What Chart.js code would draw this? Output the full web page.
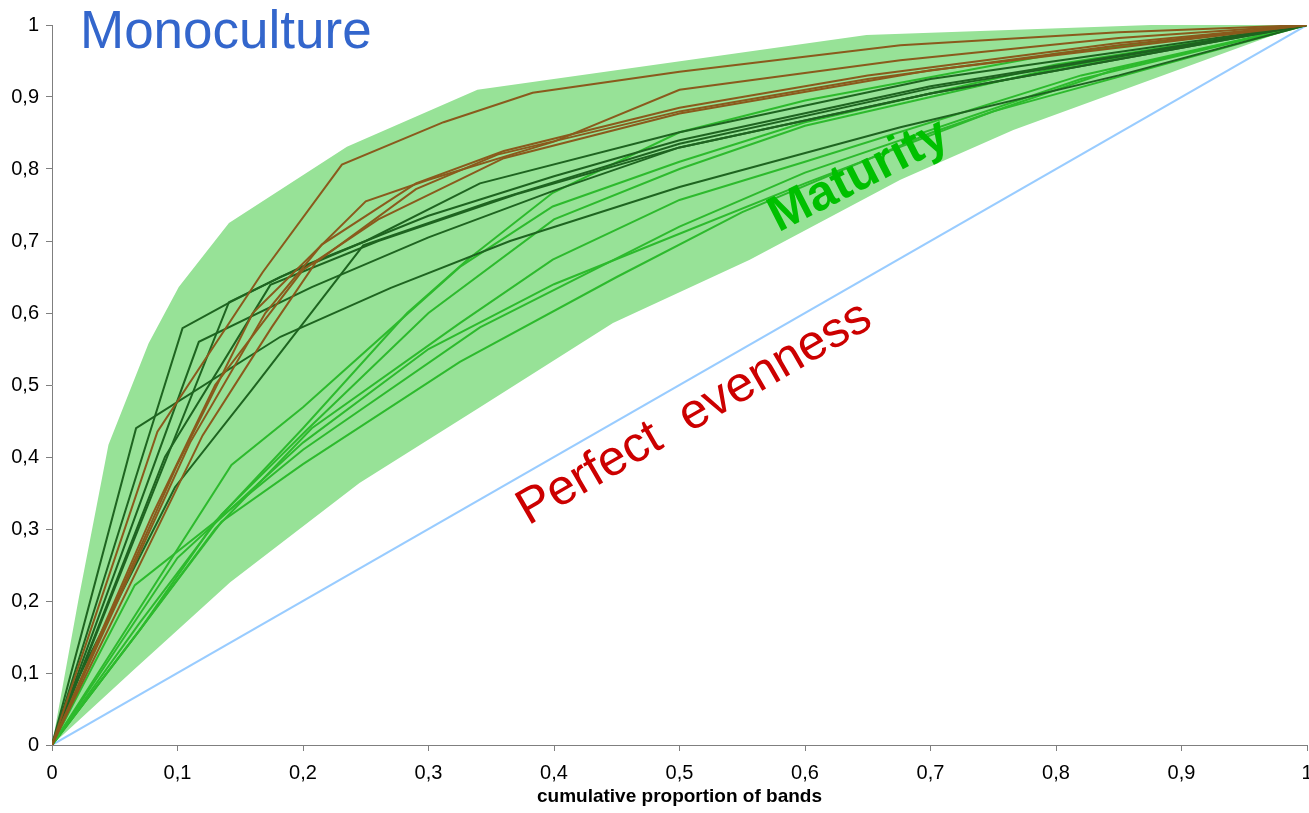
<!DOCTYPE html>
<html><head><meta charset="utf-8">
<script src="https://cdn.jsdelivr.net/npm/chart.js@4.4.1/dist/chart.umd.min.js"></script>
<style>html,body{margin:0;padding:0;background:#fff;overflow:hidden}</style>
</head><body>
<canvas id="c" width="1309" height="813"></canvas>
<script>
// ---- tick labels ----
const xTickLabels = ['0','0,1','0,2','0,3','0,4','0,5','0,6','0,7','0,8','0,9','1'];
const yTickLabels = ['0','0,1','0,2','0,3','0,4','0,5','0,6','0,7','0,8','0,9','1'];
const xTitle = 'cumulative proportion of bands';

// ---- envelope of the "Maturity" zone ----
const bandUpper = [[0,0],[0.021,0.201],[0.045,0.417],[0.077,0.558],[0.101,0.636],[0.141,0.725],[0.235,0.831],[0.339,0.910],[0.649,0.986],[0.957,1.005],[1,1.003]];
const bandLower = [[0,0],[0.065,0.104],[0.142,0.226],[0.245,0.364],[0.341,0.469],[0.447,0.586],[0.556,0.674],[0.676,0.785],[0.766,0.854],[1,1.003]];

// ---- perfect evenness ----
const evenness = [[0,0],[1,1]];

// ---- brown curves ----
const brown1 = [[0,0],[0.084,0.435],[0.168,0.657],[0.231,0.806],[0.312,0.865],[0.383,0.906],[0.5,0.935],[0.676,0.972],[0.85,0.99],[1,1]];
const brown2 = [[0,0],[0.1,0.39],[0.16,0.6],[0.25,0.755],[0.3,0.785],[0.4,0.838],[0.5,0.91],[0.676,0.951],[0.85,0.982],[1,1]];
const brown3 = [[0,0],[0.11,0.42],[0.17,0.6],[0.215,0.695],[0.29,0.78],[0.36,0.825],[0.5,0.885],[0.65,0.93],[0.85,0.975],[1,1]];
const brown4 = [[0,0],[0.12,0.43],[0.175,0.58],[0.21,0.67],[0.29,0.772],[0.355,0.82],[0.5,0.88],[0.65,0.925],[0.85,0.972],[1,1]];
const brown5 = [[0,0],[0.08,0.32],[0.13,0.5],[0.2,0.66],[0.26,0.73],[0.36,0.815],[0.5,0.877],[0.7,0.937],[1,1]];

// ---- dark green curves ----
const darkGreen1 = [[0,0],[0.067,0.44],[0.182,0.567],[0.27,0.635],[0.365,0.70],[0.5,0.775],[0.676,0.858],[0.85,0.93],[1,1]];
const darkGreen2 = [[0,0],[0.104,0.579],[0.142,0.615],[0.182,0.65],[0.25,0.70],[0.341,0.78],[0.5,0.851],[0.7,0.925],[1,1]];
const darkGreen3 = [[0,0],[0.117,0.56],[0.207,0.636],[0.3,0.705],[0.4,0.77],[0.5,0.83],[0.7,0.905],[1,1]];
const darkGreen4 = [[0,0],[0.141,0.615],[0.2,0.665],[0.3,0.735],[0.4,0.79],[0.5,0.84],[0.7,0.915],[1,1]];
const darkGreen5 = [[0,0],[0.02,0.09],[0.098,0.358],[0.159,0.493],[0.248,0.694],[0.35,0.755],[0.5,0.835],[0.7,0.912],[1,1]];
const darkGreen6 = [[0,0],[0.09,0.4],[0.174,0.639],[0.26,0.70],[0.37,0.765],[0.5,0.83],[0.7,0.905],[1,1]];

// ---- light green curves ----
const lightGreen1 = [[0,0],[0.066,0.222],[0.13,0.31],[0.2,0.44],[0.283,0.6],[0.331,0.674],[0.399,0.767],[0.5,0.851],[0.6,0.895],[0.8,0.96],[1,1]];
const lightGreen2 = [[0,0],[0.143,0.389],[0.2,0.469],[0.325,0.664],[0.399,0.748],[0.5,0.81],[0.6,0.865],[0.8,0.945],[1,1]];
const lightGreen3 = [[0,0],[0.07,0.17],[0.135,0.32],[0.203,0.4375],[0.3,0.6],[0.4,0.73],[0.5,0.8],[0.6,0.86],[0.8,0.94],[1,1]];
const lightGreen4 = [[0,0],[0.07,0.16],[0.13,0.3],[0.207,0.44],[0.325,0.586],[0.399,0.674],[0.5,0.757],[0.6,0.81],[0.82,0.93],[1,1]];
const lightGreen5 = [[0,0],[0.07,0.16],[0.13,0.31],[0.2,0.41],[0.341,0.58],[0.5,0.72],[0.6,0.795],[0.82,0.925],[1,1]];
const lightGreen6 = [[0,0],[0.07,0.16],[0.135,0.31],[0.2,0.39],[0.325,0.532],[0.45,0.65],[0.55,0.74],[0.7,0.85],[0.85,0.94],[1,1]];
const lightGreen7 = [[0,0],[0.1,0.26],[0.2,0.42],[0.3,0.55],[0.4,0.64],[0.5,0.71],[0.6,0.78],[0.75,0.88],[1,1]];

const brownSeries = [brown1, brown2, brown3, brown4, brown5];
const darkSeries = [darkGreen1, darkGreen2, darkGreen3, darkGreen4, darkGreen5, darkGreen6];
const lightSeries = [lightGreen1, lightGreen2, lightGreen3, lightGreen4, lightGreen5, lightGreen6, lightGreen7];

const toXY = arr => arr.map(p => ({x: p[0], y: p[1]}));
const BROWN = '#8A5A1C', DARK = '#1E6420', LIGHT = '#2DBA2D', BLUE = '#99CCFF', BAND = 'rgb(151,226,151)';

function lineDs(arr, color, order) {
  return {data: toXY(arr), showLine: true, borderColor: color, borderWidth: 2, pointRadius: 0,
          pointHoverRadius: 0, fill: false, tension: 0, order: order};
}

const datasets = [
  {data: toXY(bandUpper), showLine: true, borderWidth: 0, borderColor: 'rgba(0,0,0,0)', pointRadius: 0,
   backgroundColor: BAND, fill: '+1', tension: 0, order: 100},
  {data: toXY(bandLower), showLine: true, borderWidth: 0, borderColor: 'rgba(0,0,0,0)', pointRadius: 0,
   fill: false, tension: 0, order: 100},
  lineDs(evenness, BLUE, 60)
];
lightSeries.forEach(s => datasets.push(lineDs(s, LIGHT, 40)));
darkSeries.forEach(s => datasets.push(lineDs(s, DARK, 30)));
brownSeries.forEach(s => datasets.push(lineDs(s, BROWN, 20)));

const annotationPlugin = {
  id: 'labels',
  afterDatasetsDraw(chart) {
    const {ctx, scales: {x, y}} = chart;
    ctx.save();
    // Monoculture
    ctx.font = '53px "Liberation Sans", Arial, sans-serif';
    ctx.fillStyle = '#3366CC';
    ctx.textAlign = 'left';
    ctx.textBaseline = 'alphabetic';
    ctx.fillText('Monoculture', x.getPixelForValue(0.0223), y.getPixelForValue(0.968));
    // Maturity
    ctx.save();
    ctx.translate(x.getPixelForValue(0.643), y.getPixelForValue(0.79));
    ctx.rotate(-27 * Math.PI / 180);
    ctx.font = 'bold 50px "Liberation Sans", Arial, sans-serif';
    ctx.fillStyle = '#00C000';
    ctx.textAlign = 'center';
    ctx.textBaseline = 'middle';
    ctx.fillText('Maturity', 0, 0);
    ctx.restore();
    // Perfect evenness
    ctx.save();
    ctx.translate(x.getPixelForValue(0.512), y.getPixelForValue(0.46));
    ctx.rotate(-30 * Math.PI / 180);
    ctx.font = '50px "Liberation Sans", Arial, sans-serif';
    ctx.fillStyle = '#CC0000';
    ctx.textAlign = 'center';
    ctx.textBaseline = 'middle';
    ctx.fillText('Perfect  evenness', 0, 0);
    ctx.restore();
    ctx.restore();
  }
};

const AXIS = '#7F7F7F';
const tickFont = {family: '"Liberation Sans", Arial, sans-serif', size: 20};

new Chart(document.getElementById('c'), {
  type: 'scatter',
  data: {datasets},
  plugins: [annotationPlugin],
  options: {
    responsive: false,
    animation: false,
    events: [],
    layout: {padding: {left: 0, right: 2, top: 25, bottom: 0}},
    plugins: {legend: {display: false}, tooltip: {enabled: false}},
    scales: {
      x: {
        type: 'linear', position: 'bottom', min: 0, max: 1,
        ticks: {stepSize: 0.1, color: '#000', font: tickFont, padding: 10, maxRotation: 0,
                callback: (v, i) => xTickLabels[i]},
        grid: {drawOnChartArea: false, drawTicks: true, tickLength: 6, color: AXIS, tickColor: AXIS},
        border: {display: true, color: AXIS, width: 1},
        title: {display: true, text: xTitle, color: '#000',
                font: {family: '"Liberation Sans", Arial, sans-serif', size: 19, weight: 'bold'},
                padding: {top: 0, bottom: 5}},
        afterFit: s => { s.height = 68; s.paddingLeft = 0; s.paddingRight = 0; }
      },
      y: {
        type: 'linear', position: 'left', min: 0, max: 1,
        ticks: {stepSize: 0.1, color: '#000', font: tickFont, padding: 7,
                callback: (v, i) => yTickLabels[i]},
        grid: {drawOnChartArea: false, drawTicks: true, tickLength: 6, color: AXIS, tickColor: AXIS},
        border: {display: true, color: AXIS, width: 1},
        afterFit: s => { s.width = 52; s.paddingTop = 0; s.paddingBottom = 0; }
      }
    }
  }
});
</script>
</body></html>
